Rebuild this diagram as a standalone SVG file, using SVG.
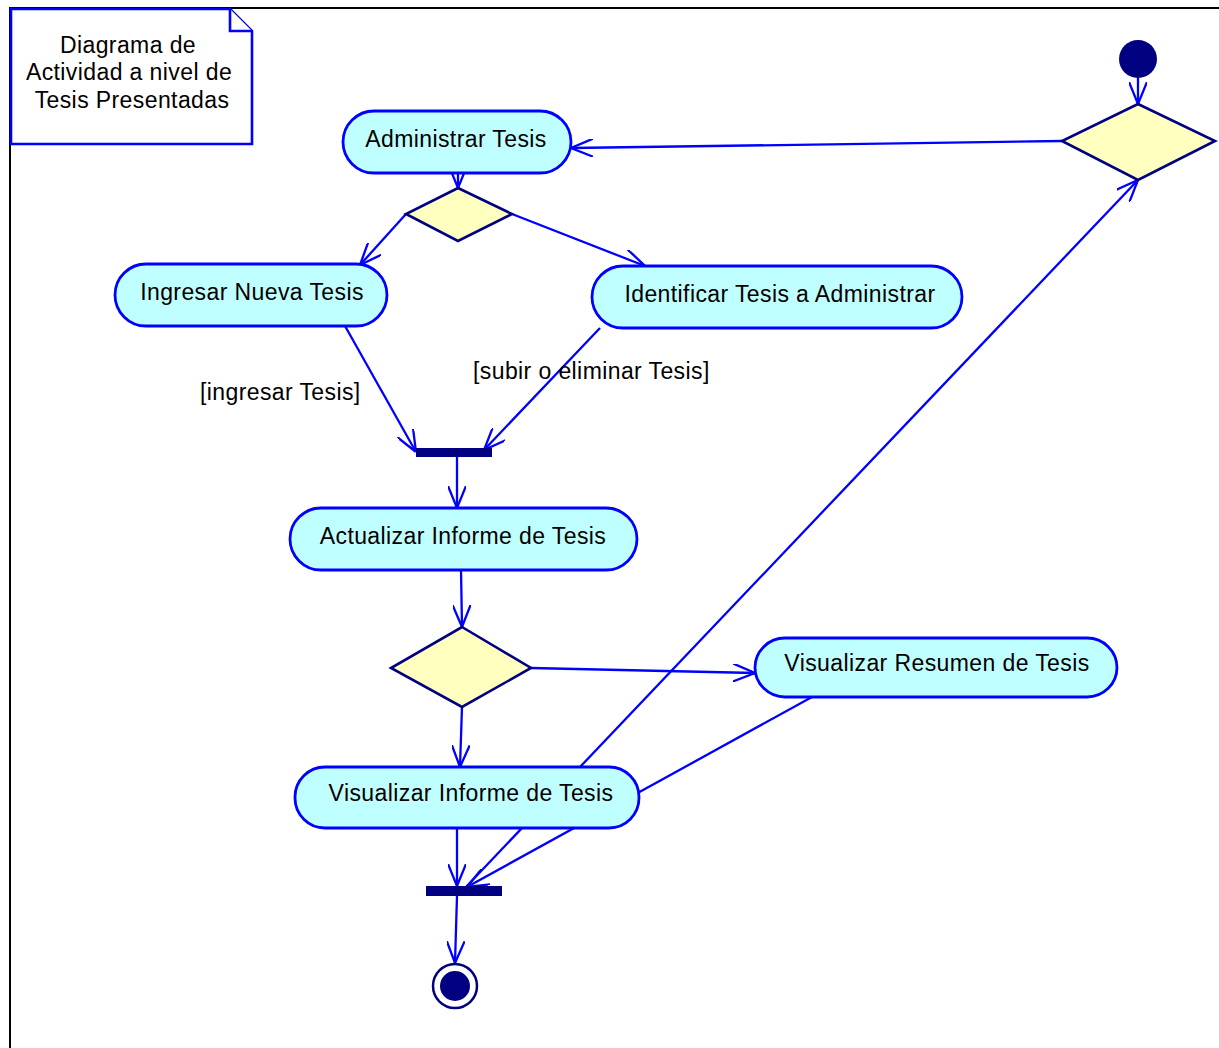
<svg xmlns="http://www.w3.org/2000/svg" width="1219" height="1048" viewBox="0 0 1219 1048">
  <style>
    .frame { fill: none; stroke: #000; stroke-width: 2; }
    .act { fill: #c0ffff; stroke: #0000ff; stroke-width: 2.8; }
    .dec { fill: #ffffc0; stroke: #000080; stroke-width: 2.6; }
    .bar { fill: #000080; }
    .note { fill: #fff; stroke: #0000ff; stroke-width: 2.6; }
    .flow { fill: none; stroke: #0000ff; stroke-width: 2.3; marker-end: url(#open); }
    text { font-family: "Liberation Sans", Arial, sans-serif; fill: #000; }
    .lbl { font-size: 23px; letter-spacing: 0.4px; text-anchor: middle; }
    .grd { font-size: 23px; letter-spacing: 0.4px; }
  </style>
  <defs>
    <marker id="open" viewBox="0 0 22 18" refX="22" refY="9" markerWidth="22" markerHeight="18" markerUnits="userSpaceOnUse" orient="auto">
      <path d="M0,0 L22,9 L0,18" fill="none" stroke="#0000ff" stroke-width="2.3"/>
    </marker>
  </defs>

  <!-- outer frame -->
  <path class="frame" d="M10,1048 L10,8 L1219,8"/>

  <!-- connectors -->
  <g id="connectors">
    <line class="flow" x1="1138" y1="78" x2="1138" y2="104"/>
    <line class="flow" x1="1062" y1="141" x2="571" y2="148"/>
    <line class="flow" x1="458" y1="173" x2="458" y2="188"/>
    <line class="flow" x1="406" y1="214" x2="360" y2="265"/>
    <line class="flow" x1="512" y1="214" x2="645" y2="266"/>
    <line class="flow" x1="345" y1="326" x2="416" y2="452"/>
    <line class="flow" x1="600" y1="328" x2="484" y2="450"/>
    <line class="flow" x1="457" y1="457" x2="457" y2="508"/>
    <line class="flow" x1="461" y1="570" x2="462" y2="627"/>
    <line class="flow" x1="531" y1="668" x2="755" y2="673"/>
    <line class="flow" x1="462" y1="707" x2="460" y2="767"/>
    <line class="flow" x1="812" y1="697" x2="467" y2="887"/>
    <line class="flow" x1="465" y1="888" x2="1138" y2="180"/>
    <line class="flow" x1="457" y1="828" x2="457" y2="886"/>
    <line class="flow" x1="457" y1="896" x2="455" y2="963"/>
  </g>

  <!-- note -->
  <g id="note">
    <path class="note" d="M11,9 L230,9 L252,31 L252,144 L11,144 Z"/>
    <path class="note" d="M230,9 L230,31 L252,31"/>
    <text class="lbl" x="128" y="53">Diagrama de</text>
    <text class="lbl" x="129" y="80">Actividad a nivel de</text>
    <text class="lbl" x="132" y="108">Tesis Presentadas</text>
  </g>

  <!-- start / end -->
  <g id="start"><circle cx="1138" cy="59" r="19" fill="#000080"/></g>
  <g id="end">
    <circle cx="455" cy="986" r="22" fill="#fff" stroke="#000080" stroke-width="2.5"/>
    <circle cx="455" cy="986" r="15" fill="#000080"/>
  </g>

  <!-- decisions -->
  <g id="decision-top"><polygon class="dec" points="1138,104 1215,141 1138,180 1062,141"/></g>
  <g id="decision-admin"><polygon class="dec" points="458,188 512,214 458,241 406,214"/></g>
  <g id="decision-report"><polygon class="dec" points="462,627 531,668 462,707 391,668"/></g>

  <!-- synchronization bars -->
  <g id="join-1"><rect class="bar" x="416" y="448" width="76" height="9"/></g>
  <g id="join-2"><rect class="bar" x="426" y="886" width="76" height="10"/></g>

  <!-- activities -->
  <g id="administrar">
    <rect class="act" x="343" y="111" width="228" height="62" rx="31"/>
    <text class="lbl" x="456" y="147">Administrar Tesis</text>
  </g>
  <g id="ingresar">
    <rect class="act" x="115" y="264" width="272" height="62" rx="31"/>
    <text class="lbl" x="252" y="300">Ingresar Nueva Tesis</text>
  </g>
  <g id="identificar">
    <rect class="act" x="592" y="266" width="370" height="62" rx="31"/>
    <text class="lbl" x="780" y="302">Identificar Tesis a Administrar</text>
  </g>
  <g id="actualizar">
    <rect class="act" x="290" y="508" width="347" height="62" rx="31"/>
    <text class="lbl" x="463" y="544">Actualizar Informe de Tesis</text>
  </g>
  <g id="resumen">
    <rect class="act" x="755" y="638" width="362" height="59" rx="30"/>
    <text class="lbl" x="937" y="671">Visualizar Resumen de Tesis</text>
  </g>
  <g id="informe">
    <rect class="act" x="295" y="767" width="344" height="61" rx="30"/>
    <text class="lbl" x="471" y="801">Visualizar Informe de Tesis</text>
  </g>

  <!-- guards -->
  <g id="guards">
    <text class="grd" x="200" y="400">[ingresar Tesis]</text>
    <text class="grd" x="473" y="379">[subir o eliminar Tesis]</text>
  </g>
</svg>
